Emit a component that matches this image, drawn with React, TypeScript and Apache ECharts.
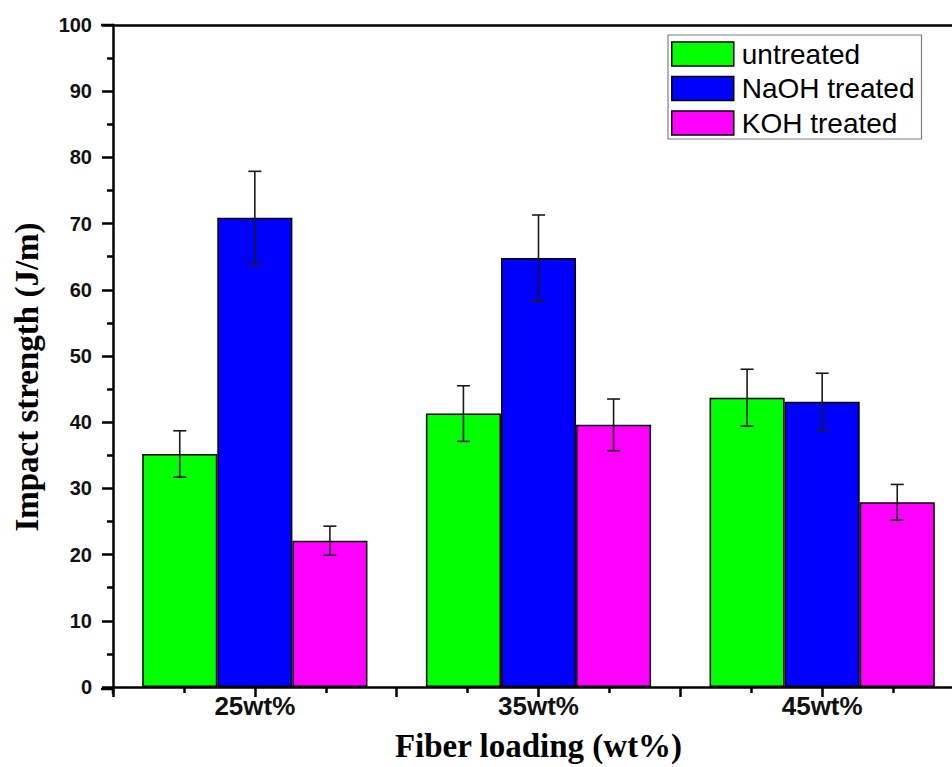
import React, { useEffect, useRef } from "react";
import * as echarts from "echarts";

const categories = ["25wt%", "35wt%", "45wt%"];
const seriesNames = ["untreated", "NaOH treated", "KOH treated"];
const seriesColors = ["#00FF00", "#0000FF", "#FF00FF"];
const untreated = [35.2, 41.3, 43.7];
const untreatedErr = [3.5, 4.2, 4.3];
const naoh = [70.9, 64.8, 43.1];
const naohErr = [7.0, 6.5, 4.3];
const koh = [22.1, 39.6, 27.9];
const kohErr = [2.2, 3.9, 2.7];

const values = [untreated, naoh, koh];
const errors = [untreatedErr, naohErr, kohErr];

const yTitle = "Impact strength (J/m)";
const xTitle = "Fiber loading (wt%)";

const GAP = 0.206;
const SANS = "'Liberation Sans', Arial, sans-serif";
const SERIF = "'Liberation Serif', 'Times New Roman', serif";

const GRID = { left: 113, top: 25, width: 851, height: 664 };

export default function App() {
  const ref = useRef<HTMLDivElement>(null);
  useEffect(() => {
    if (!ref.current) return;
    const chart = echarts.init(ref.current, null, { renderer: "svg" });

    const barSeries = seriesNames.map((name, k) => ({
      name,
      type: "bar",
      xAxisIndex: 0,
      yAxisIndex: 0,
      data: values[k],
      barGap: "0%",
      barCategoryGap: `${GAP * 100}%`,
      itemStyle: { color: seriesColors[k], borderColor: "#000", borderWidth: 1.5 },
      z: 2,
    }));

    const errSeries = seriesNames.map((_, k) => ({
      type: "custom",
      xAxisIndex: 0,
      yAxisIndex: 0,
      z: 5,
      silent: true,
      data: categories.map((_c, i) => [i, values[k][i], errors[k][i]]),
      renderItem: (params: any, api: any) => {
        const cat = api.value(0);
        const v = api.value(1);
        const e = api.value(2);
        const band = api.size([1, 0])[0];
        const barW = (band * (1 - GAP)) / 3;
        const off = (k - 1) * barW;
        const top = api.coord([cat, v + e]);
        const bot = api.coord([cat, v - e]);
        const x = top[0] + off;
        const cw = 6.5;
        const st = { stroke: "#1a1a1a", lineWidth: 1.6 };
        return {
          type: "group",
          children: [
            { type: "line", shape: { x1: x, y1: top[1], x2: x, y2: bot[1] }, style: st },
            { type: "line", shape: { x1: x - cw, y1: top[1], x2: x + cw, y2: top[1] }, style: st },
            { type: "line", shape: { x1: x - cw, y1: bot[1], x2: x + cw, y2: bot[1] }, style: st },
          ],
        };
      },
    }));

    const option: any = {
      animation: false,
      backgroundColor: "#fff",
      grid: { ...GRID, containLabel: false },
      legend: {
        data: seriesNames,
        orient: "vertical",
        left: 668,
        top: 35,
        itemWidth: 62,
        itemHeight: 24,
        itemGap: 6.5,
        padding: [5, 7, 2, 3],
        borderColor: "#808080",
        borderWidth: 1.2,
        icon: "rect",
        itemStyle: { borderColor: "#000", borderWidth: 1.5 },
        textStyle: { fontFamily: SANS, fontSize: 28, color: "#000", padding: [0, 0, 0, 3] },
      },
      xAxis: [
        {
          type: "category",
          data: categories,
          position: "bottom",
          axisLine: { show: true, lineStyle: { color: "#000", width: 2.5 } },
          axisTick: { show: false },
          axisLabel: { fontFamily: SANS, fontWeight: "bold", fontSize: 26, color: "#111", margin: 6 },
          name: xTitle,
          nameLocation: "middle",
          nameGap: 42,
          nameTextStyle: { fontFamily: SERIF, fontWeight: "bold", fontSize: 33, color: "#000" },
          splitLine: { show: false },
        },
        {
          type: "value",
          min: 0,
          max: 6,
          interval: 1,
          position: "bottom",
          axisLine: { show: false },
          axisTick: { show: true, length: 10, lineStyle: { color: "#000", width: 2.5 } },
          minorTick: { show: true, splitNumber: 2, length: 6, lineStyle: { color: "#000", width: 2.5 } },
          axisLabel: { show: false },
          splitLine: { show: false },
        },
        {
          type: "value",
          min: 0,
          max: 6,
          position: "top",
          axisLine: { show: true, onZero: false, lineStyle: { color: "#000", width: 2.5 } },
          axisTick: { show: false },
          axisLabel: { show: false },
          splitLine: { show: false },
        },
      ],
      yAxis: [
        {
          type: "value",
          min: 0,
          max: 100,
          interval: 10,
          axisLine: { show: true, lineStyle: { color: "#000", width: 2.5 } },
          axisTick: { show: true, length: 11, lineStyle: { color: "#000", width: 2.5 } },
          minorTick: { show: true, splitNumber: 2, length: 6, lineStyle: { color: "#000", width: 2.5 } },
          axisLabel: { fontFamily: SANS, fontWeight: "bold", fontSize: 20, color: "#111", margin: 21 },
          splitLine: { show: false },
        },
      ],
      graphic: [
        { type: "line", shape: { x1: 101, y1: 689, x2: 114, y2: 689 }, style: { stroke: "#000", lineWidth: 2.5 } },
        { type: "line", shape: { x1: 101, y1: 25, x2: 114, y2: 25 }, style: { stroke: "#000", lineWidth: 2.5 } },
        { type: "line", shape: { x1: 113, y1: 689, x2: 113, y2: 694 }, style: { stroke: "#000", lineWidth: 2.5 } },
        {
          type: "text",
          x: 27,
          y: 377,
          rotation: Math.PI / 2,
          style: {
            text: yTitle,
            align: "center",
            verticalAlign: "middle",
            fontFamily: SERIF,
            fontWeight: "bold",
            fontSize: 33,
            fill: "#000",
          },
        },
      ],
      series: [...barSeries, ...errSeries],
    };
    chart.setOption(option);
    return () => chart.dispose();
  }, []);

  return (
    <div style={{ position: "fixed", left: 0, top: 0, width: 952, height: 767, overflow: "hidden", background: "#fff" }}>
      <div ref={ref} style={{ width: 980, height: 767 }} />
    </div>
  );
}
